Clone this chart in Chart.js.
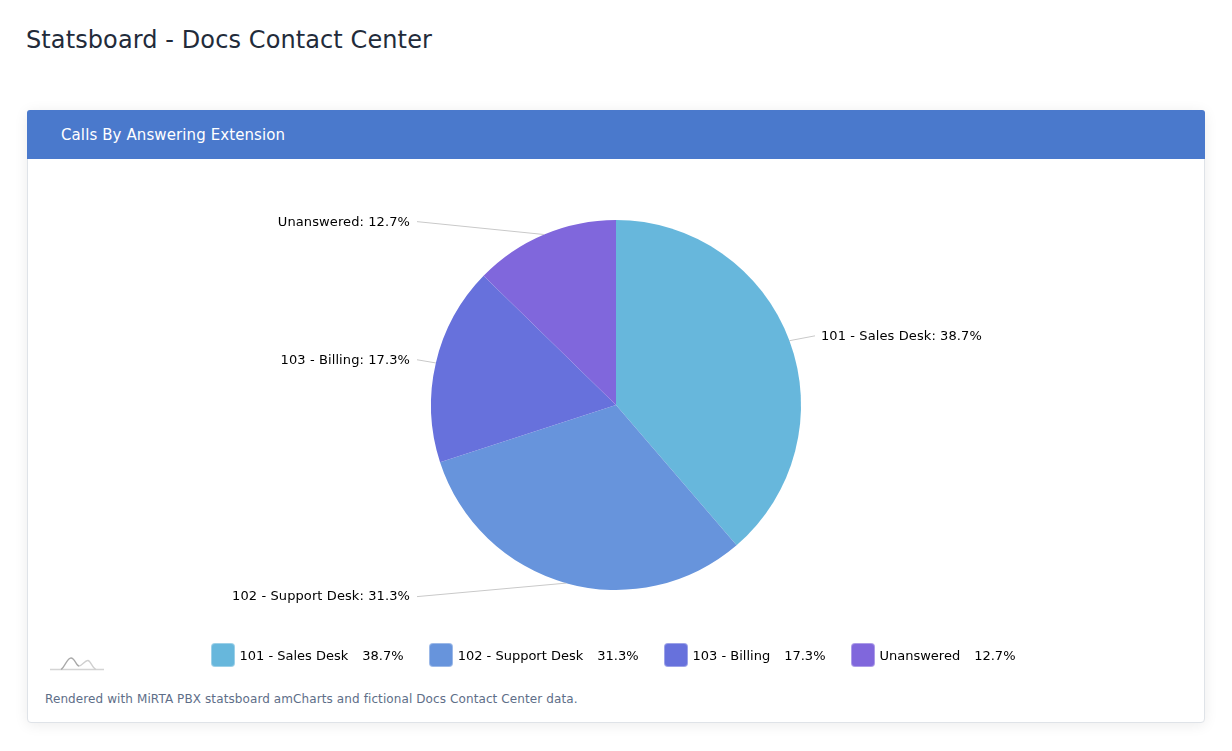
<!DOCTYPE html>
<html>
<head>
<meta charset="utf-8">
<title>Statsboard - Docs Contact Center</title>
<script src="https://cdn.jsdelivr.net/npm/chart.js@4/dist/chart.umd.min.js"></script>
<style>
    html, body { margin: 0; padding: 0; background: #fff; font-family: 'DejaVu Sans', sans-serif; }
    body { width: 1232px; height: 751px; position: relative; overflow: hidden; }
    h1 { position: absolute; left: 26px; top: 28px; margin: 0; font-size: 24px; line-height: 24px; font-weight: normal; color: #222b3a; letter-spacing: 0.1px; }
    .card { position: absolute; left: 27px; top: 110px; width: 1176px; height: 611px; border: 1px solid #dfe3e8; border-radius: 4px; background: #fff; box-shadow: 0 2px 14px rgba(0,0,0,0.08); }
    .card-head { height: 49px; line-height: 50px; background: #4a79cc; color: #fff; font-size: 15px; padding-left: 34px; border-radius: 3px 3px 0 0; margin: -1px -1px 0 -1px; letter-spacing: 0.1px; }
    .chart-box { position: absolute; left: 0; top: 48px; width: 1176px; height: 492px; }
    .legend { position: absolute; left: -3px; top: 532px; width: 1176px; display: flex; justify-content: center; font-size: 13px; color: #000; }
    .legend .item { display: flex; align-items: center; margin-right: 25px; }
    .legend .item:last-child { margin-right: 0; }
    .legend .box { width: 22px; height: 22px; border-radius: 4px; margin-right: 5px; border: 1px solid rgba(255,255,255,0.35); }
    .legend .val { margin-left: 14px; }
    .logo { position: absolute; left: 20px; top: 540px; }
    .foot { position: absolute; left: 17px; top: 581px; font-size: 12px; color: #5e6e88; letter-spacing: 0.1px; }
</style>
</head>
<body>
<h1>Statsboard - Docs Contact Center</h1>
<div class="card">
    <div class="card-head">Calls By Answering Extension</div>
    <div class="chart-box"><canvas id="pie"></canvas></div>
    <svg class="logo" width="60" height="24" viewBox="0 0 60 24">
        <path d="M2 18.5 H56" stroke="#d4d4d4" stroke-width="1.3" fill="none"/>
        <path d="M13 18.5 C17 16 19 7 23 7 C27 7 28 15 31 15" stroke="#a8a8a8" stroke-width="1.3" fill="none"/>
        <path d="M31 15 C34 15 37 9 40 9.5 C43 10 44 17 48 18.5" stroke="#cfcfcf" stroke-width="1.3" fill="none"/>
    </svg>
    <div class="legend" id="legend"></div>
    <div class="foot">Rendered with MiRTA PBX statsboard amCharts and fictional Docs Contact Center data.</div>
</div>
<script>
const categories = ['101 - Sales Desk', '102 - Support Desk', '103 - Billing', 'Unanswered'];
const shares = [38.7, 31.3, 17.3, 12.7];
const sliceColors = ['#67b7dc', '#6794dc', '#6771dc', '#8067dc'];

function pct(i) {
    const total = shares.reduce((a, b) => a + b, 0);
    return (shares[i] / total * 100).toFixed(1) + '%';
}

function renderLegend() {
    const el = document.getElementById('legend');
    categories.forEach((name, i) => {
        const item = document.createElement('div');
        item.className = 'item';
        item.innerHTML = `<span class="box" style="background:${sliceColors[i]}"></span>` +
            `<span>${name}</span><span class="val">${pct(i)}</span>`;
        el.appendChild(item);
    });
}

// amCharts-style outside labels with leader lines
const sliceLabels = {
    id: 'sliceLabels',
    afterDatasetsDraw(chart) {
        const ctx = chart.ctx;
        const arcs = chart.getDatasetMeta(0).data;
        ctx.save();
        ctx.font = "13px 'DejaVu Sans', sans-serif";
        ctx.letterSpacing = '0.1px';
        ctx.textBaseline = 'middle';
        arcs.forEach((arc, i) => {
            const { x, y, outerRadius, startAngle, endAngle } = arc.getProps(['x', 'y', 'outerRadius', 'startAngle', 'endAngle'], true);
            const mid = (startAngle + endAngle) / 2;
            const px = x + Math.cos(mid) * outerRadius;
            const py = y + Math.sin(mid) * outerRadius;
            const right = Math.cos(mid) >= 0;
            const ly = y + Math.sin(mid) * (outerRadius + 14);
            const lx = x + (right ? 1 : -1) * (outerRadius + 14);
            ctx.strokeStyle = '#c9c9c9';
            ctx.lineWidth = 1;
            ctx.beginPath();
            ctx.moveTo(px, py);
            ctx.lineTo(lx, ly);
            ctx.stroke();
            ctx.fillStyle = '#000';
            ctx.textAlign = right ? 'left' : 'right';
            ctx.fillText(categories[i] + ': ' + pct(i), lx + (right ? 6 : -7), ly + 0.5);
        });
        ctx.restore();
    }
};

function renderPie() {
    new Chart(document.getElementById('pie'), {
        type: 'pie',
        data: {
            labels: categories,
            datasets: [{
                data: shares,
                backgroundColor: sliceColors,
                borderWidth: 0,
                radius: 185,
            }],
        },
        options: {
            responsive: true,
            maintainAspectRatio: false,
            animation: false,
            layout: { padding: 0 },
            plugins: { legend: { display: false }, tooltip: { enabled: false } },
        },
        plugins: [sliceLabels],
    });
}

renderLegend();
renderPie();
</script>
</body>
</html>
